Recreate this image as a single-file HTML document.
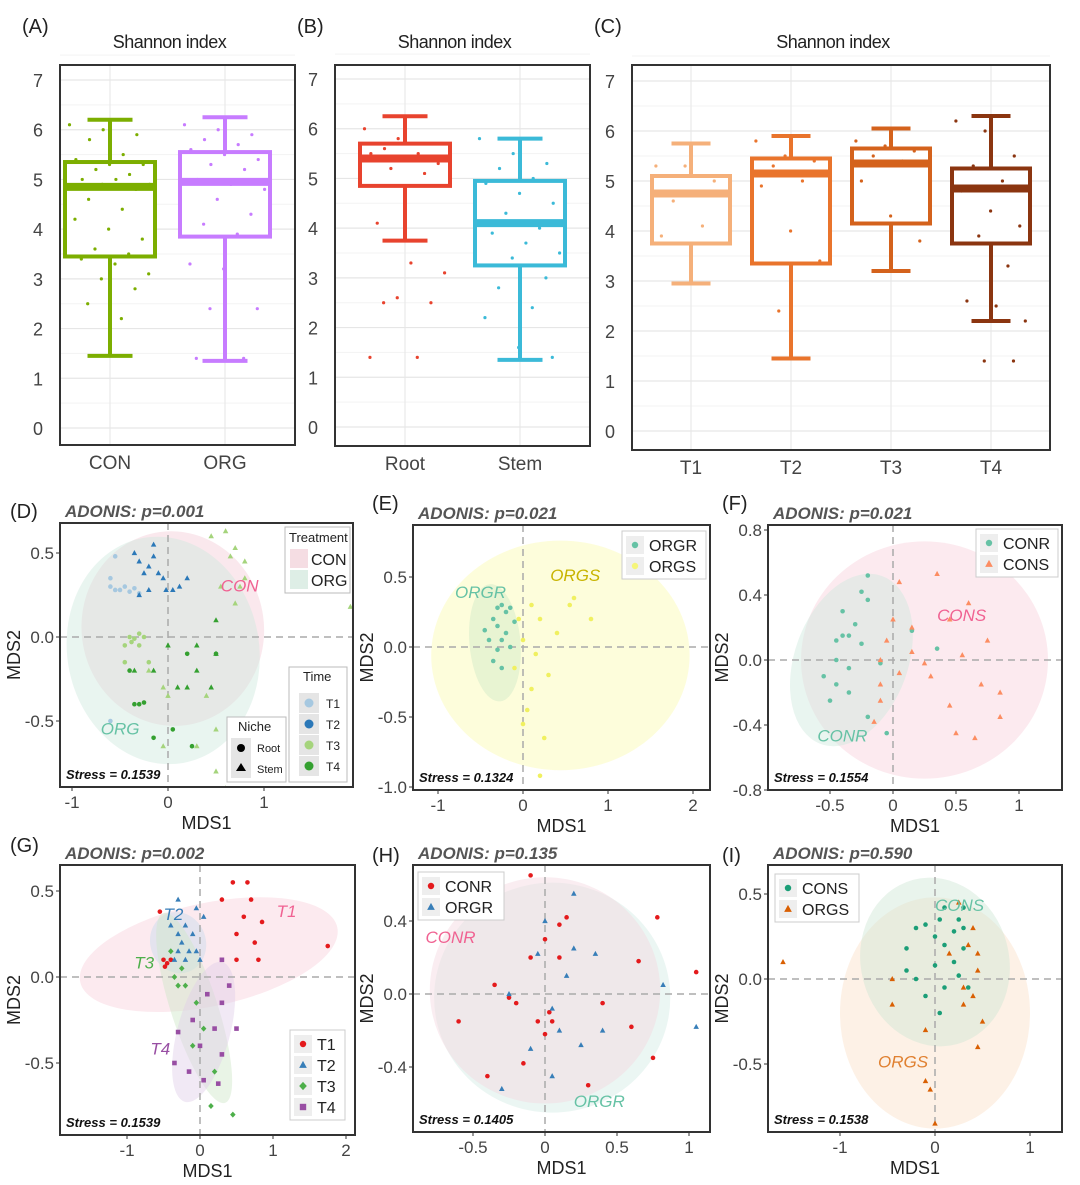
<!DOCTYPE html>
<html><head><meta charset="utf-8"><style>
body{margin:0;background:#fff}
svg{display:block;font-family:"Liberation Sans",sans-serif}
</style></head><body>
<svg id="fig" width="1080" height="1185" viewBox="0 0 1080 1185" xmlns="http://www.w3.org/2000/svg"></svg>
<script>
// ---------- Boxplot data ----------
const A_cats=["CON","ORG"];
const A_stats=[[1.45,3.45,4.85,5.35,6.2],[1.35,3.85,4.95,5.55,6.25]];
const A_pts=[[6.1,6.0,5.9,5.8,5.5,5.4,5.3,5.3,5.2,5.1,5.0,5.0,4.9,4.9,4.8,4.6,4.4,4.2,4.0,3.8,3.6,3.5,3.4,3.3,3.1,3.0,2.8,2.5,2.2],[6.1,6.0,5.9,5.8,5.7,5.6,5.5,5.4,5.3,5.2,5.0,4.9,4.8,4.6,4.3,4.1,3.9,3.3,3.2,2.4,2.4,1.4,1.4]];
const B_cats=["Root","Stem"];
const B_stats=[[3.75,4.85,5.4,5.7,6.25],[1.35,3.25,4.1,4.95,5.8]];
const B_pts=[[6.0,5.8,5.7,5.6,5.5,5.5,5.4,5.3,5.2,5.1,4.1,3.3,3.1,2.6,2.5,2.5,1.4,1.4],[5.8,5.5,5.3,5.2,5.0,4.9,4.7,4.5,4.3,4.0,3.9,3.7,3.5,3.4,3.0,2.8,2.4,2.2,1.6,1.4]];
const C_cats=["T1","T2","T3","T4"];
const C_stats=[[2.95,3.75,4.75,5.1,5.75],[1.45,3.35,5.15,5.45,5.9],[3.2,4.15,5.35,5.65,6.05],[2.2,3.75,4.85,5.25,6.3]];
const C_pts=[[5.3,5.3,5.0,4.6,4.1,3.9,3.3],[5.8,5.5,5.4,5.3,5.0,4.9,4.0,3.4,2.4],[5.8,5.7,5.6,5.5,5.4,5.0,4.3,3.8],[6.2,6.0,5.5,5.3,5.0,4.8,4.4,4.1,3.9,3.3,2.6,2.5,2.2,1.4,1.4]];
const yTicksBox=[0,1,2,3,4,5,6,7];

// ---------- Ordination data ----------
const D_T1=[[-0.6,0.3],[-0.5,0.28],[-0.45,0.3],[-0.4,0.27],[-0.55,0.28],[-0.35,0.29],[-0.3,0.26],[-0.6,0.35],[-0.55,0.48],[-0.6,-0.5]];
const D_T2=[[-0.3,0.45],[-0.2,0.42],[-0.1,0.38],[-0.15,0.48],[-0.05,0.35],[-0.25,0.38],[-0.02,0.28],[0.12,0.3],[-0.35,0.5],[0.05,0.28],[-0.15,0.55],[-0.2,0.28],[-0.3,0.25],[0.2,0.35],[-0.1,0.7]];
const D_T3=[[-0.4,0.0],[-0.35,-0.01],[-0.3,0.02],[-0.25,0.0],[-0.38,-0.03],[-0.45,-0.05],[-0.45,-0.15],[-0.2,-0.15],[-0.3,-0.05]];
const D_T3s=[[0.65,0.48],[0.8,0.45],[0.7,0.53],[0.55,0.3],[0.75,0.3],[0.45,0.6],[0.6,0.63],[0.8,0.35],[1.9,0.18],[0.7,0.2],[-0.05,-0.3],[0.0,-0.35],[-0.2,-0.2],[0.4,-0.35],[0.5,-0.55],[0.3,-0.65],[0.5,-0.8],[-0.05,-0.65],[0.6,-0.9]];
const D_T4=[[-0.3,-0.4],[-0.35,-0.4],[-0.25,-0.39],[-0.4,-0.2],[0.2,-0.1],[0.05,-0.55],[-0.15,-0.6],[0.5,-0.1],[0.25,-0.65]];
const D_T4s=[[0.5,0.1],[0.3,-0.05],[0.5,-0.1],[0.3,-0.2],[-0.15,-0.2],[-0.35,-0.2],[0.45,-0.3],[0.2,-0.3],[0.1,-0.3],[0.0,-0.05]];

const E_R=[[-0.3,0.28],[-0.25,0.3],[-0.2,0.25],[-0.15,0.28],[-0.35,0.2],[-0.3,0.15],[-0.2,0.1],[-0.25,0.05],[-0.4,0.05],[-0.3,-0.02],[-0.15,0.0],[-0.35,-0.1],[-0.25,-0.15],[-0.1,0.18],[-0.45,0.12]];
const E_S=[[0.1,0.3],[0.55,0.3],[0.8,0.2],[0.2,0.2],[0.4,0.1],[0.0,0.05],[0.15,-0.05],[-0.05,0.2],[0.3,-0.2],[0.1,-0.3],[0.05,-0.45],[0.0,-0.55],[0.25,-0.65],[0.2,-0.92],[0.6,0.35],[-0.1,-0.15]];
const F_R=[[-0.2,0.52],[-0.25,0.42],[-0.2,0.37],[-0.4,0.3],[-0.3,0.22],[-0.4,0.15],[-0.35,0.15],[-0.45,0.12],[-0.25,0.1],[-0.45,0.0],[-0.35,-0.05],[-0.55,-0.1],[-0.45,-0.15],[-0.35,-0.2],[-0.5,-0.25],[-0.1,-0.02],[0.35,0.07],[-0.2,-0.35],[-0.05,-0.45],[0.15,0.18]];
const F_S=[[0.35,0.53],[0.05,0.48],[0.6,0.35],[0.0,0.25],[0.45,0.25],[0.15,0.2],[-0.05,0.12],[0.75,0.12],[0.15,0.05],[0.55,0.03],[-0.1,0.0],[0.25,-0.02],[0.05,-0.08],[0.3,-0.1],[0.7,-0.15],[-0.1,-0.15],[0.85,-0.2],[-0.1,-0.25],[0.45,-0.28],[0.85,-0.35],[-0.15,-0.38],[0.5,-0.45],[0.65,-0.48]];

const G_T1=[[0.45,0.55],[0.65,0.55],[0.3,0.45],[0.7,0.45],[0.6,0.35],[0.85,0.32],[0.5,0.25],[0.75,0.2],[0.8,0.1],[1.75,0.18],[0.5,0.1],[-0.5,0.1],[-0.45,0.08],[-0.4,0.1],[-0.48,0.06],[-0.55,0.38]];
const G_T2=[[-0.3,0.45],[-0.05,0.4],[-0.4,0.3],[-0.2,0.3],[-0.3,0.25],[-0.1,0.25],[-0.25,0.2],[-0.15,0.15],[-0.3,0.15],[-0.05,0.15],[0.0,0.1],[-0.2,0.1],[-0.35,0.1],[0.05,0.35]];
const G_T3=[[-0.4,0.15],[-0.25,0.05],[-0.35,0.0],[-0.3,-0.05],[-0.2,-0.05],[-0.05,-0.15],[0.05,-0.3],[-0.1,-0.4],[0.2,-0.55],[0.15,-0.75],[0.45,-0.8]];
const G_T4=[[0.3,0.1],[0.4,-0.05],[0.1,-0.1],[0.3,-0.15],[-0.1,-0.25],[0.2,-0.3],[0.5,-0.3],[-0.3,-0.32],[0.0,-0.4],[0.3,-0.45],[-0.35,-0.5],[0.05,-0.6],[0.25,-0.62],[-0.15,-0.55]];

const H_R=[[-0.1,0.65],[0.1,0.38],[0.15,0.42],[0.0,0.3],[-0.1,0.2],[0.1,0.2],[-0.35,0.05],[-0.2,-0.05],[-0.25,-0.02],[-0.05,-0.15],[0.0,-0.22],[0.05,-0.15],[0.03,-0.1],[-0.6,-0.15],[0.6,-0.18],[0.4,-0.05],[0.75,-0.35],[0.65,0.18],[0.78,0.42],[-0.4,-0.45],[0.3,-0.5],[-0.15,-0.38],[1.05,0.12]];
const H_S=[[0.2,0.55],[0.0,0.4],[-0.05,0.22],[0.2,0.25],[0.15,0.1],[-0.25,0.0],[0.05,-0.08],[0.1,-0.2],[-0.1,-0.3],[0.4,-0.2],[0.25,-0.28],[0.82,0.05],[1.05,-0.18],[0.05,-0.45],[-0.3,-0.52],[0.35,0.22]];
const I_C=[[0.1,0.42],[0.3,0.42],[0.05,0.35],[0.25,0.35],[0.3,0.3],[-0.1,0.32],[0.2,0.28],[0.0,0.25],[-0.2,0.3],[0.1,0.2],[0.3,0.18],[-0.3,0.18],[0.2,0.1],[0.0,0.08],[-0.2,0.0],[0.25,0.02],[0.35,-0.05],[0.1,-0.05],[-0.1,-0.1],[0.05,-0.2],[-0.3,0.05]];
const I_S=[[0.25,0.45],[0.4,0.3],[0.35,0.2],[0.45,0.15],[0.15,0.15],[0.45,0.05],[-0.45,0.0],[0.3,-0.05],[0.4,-0.1],[-0.45,-0.15],[0.3,-0.15],[0.5,-0.25],[-0.1,-0.3],[0.45,-0.4],[-1.6,0.1],[-0.1,-0.6],[-0.05,-0.65],[0.0,-0.85]];

const NS="http://www.w3.org/2000/svg";
const svg=document.getElementById("fig");
function el(tag,attrs,parent,text){const e=document.createElementNS(NS,tag);for(const k in attrs)e.setAttribute(k,attrs[k]);if(text!==undefined)e.textContent=text;(parent||svg).appendChild(e);return e;}
function txt(x,y,s,size,extra,name,parent){const t=el("text",Object.assign({x:x,y:y,"font-size":size,fill:"#222"},extra||{}),parent,s);


return t;}
function lin(a,b){return v=>a[1]+(v-a[0])*(b[1]-a[1])/(b[0]-a[0]);}

// ---------- Box panels ----------
function boxPanel(id,letter,box,y0,y7,xs,bw,cats,stats,pts,colors){
  const g=el("g",{});
  
  
  const Y=lin([0,y0],[7,y7]);
  for(let v=0;v<=7.5;v+=0.5){const r=el("line",{x1:box[0],x2:box[2],y1:Y(v),y2:Y(v),stroke:v%1?"#f3f3f3":"#e6e6e6","stroke-width":v%1?1:1.2},g);
    
    }
  xs.forEach(x=>{const r=el("line",{x1:x,x2:x,y1:box[1],y2:box[3],stroke:"#e6e6e6"},g);
    
    });
  yTicksBox.forEach(v=>{txt(box[0]-22,Y(v)+7,String(v),18,{fill:"#444","text-anchor":"middle"},'y-tick-label',g);});
  cats.forEach((c,i)=>{
    const x=xs[i],s=stats[i],col=colors[i];
    txt(x,box[3]+24,c,19,{fill:"#444","text-anchor":"middle"},'x-tick-label',g);
    const bg=el("g",{stroke:col,"stroke-width":4,fill:"none"},g);
    
    
    el("line",{x1:x,x2:x,y1:Y(s[0]),y2:Y(s[1])},bg);
    el("line",{x1:x,x2:x,y1:Y(s[3]),y2:Y(s[4])},bg);
    el("line",{x1:x-bw/4,x2:x+bw/4,y1:Y(s[0]),y2:Y(s[0])},bg);
    el("line",{x1:x-bw/4,x2:x+bw/4,y1:Y(s[4]),y2:Y(s[4])},bg);
    el("rect",{x:x-bw/2,y:Y(s[3]),width:bw,height:Y(s[1])-Y(s[3]),fill:"#fff"},bg);
    el("line",{x1:x-bw/2,x2:x+bw/2,y1:Y(s[2]),y2:Y(s[2]),"stroke-width":8},bg);
    pts[i].forEach((v,j)=>{const off=(((j*37)%89)/89-0.5)*bw*0.9;
      const p=el("circle",{cx:x+off,cy:Y(v),r:1.6,fill:col},g);
      
      });
  });
  const fr=el("rect",{x:box[0],y:box[1],width:box[2]-box[0],height:box[3]-box[1],fill:"none",stroke:"#333","stroke-width":2},g);
  
  
  txt(box[0]-38,33,"("+letter+")",20,{},'panel-label',g);
  txt((box[0]+box[2])/2-8,48,"Shannon index",18,{"text-anchor":"middle","letter-spacing":"-0.5"},'panel-title',g);
}
boxPanel("A","A",[60,65,295,445],428,80,[110,225],90,A_cats,A_stats,A_pts,["#7cae00","#c77cff"]);
boxPanel("B","B",[335,65,590,446],427,79,[405,520],90,B_cats,B_stats,B_pts,["#e8432e","#3bbad8"]);
boxPanel("C","C",[632,65,1050,450],431,81,[691,791,891,991],78,C_cats,C_stats,C_pts,["#f5b07a","#e9742c","#d4621c","#8b3510"]);

// ---------- Ordination panels ----------
function shape(g,kind,x,y,col,sz){
  let e;
  if(kind==="c")e=el("circle",{cx:x,cy:y,r:sz,fill:col},g);
  else if(kind==="t")e=el("polygon",{points:`${x},${y-sz*1.3} ${x-sz*1.2},${y+sz*0.9} ${x+sz*1.2},${y+sz*0.9}`,fill:col},g);
  else if(kind==="d")e=el("polygon",{points:`${x},${y-sz*1.3} ${x-sz*1.2},${y} ${x},${y+sz*1.3} ${x+sz*1.2},${y}`,fill:col},g);
  else e=el("rect",{x:x-sz,y:y-sz,width:sz*2,height:sz*2,fill:col},g);
  return e;
}
function ordPanel(o){
  const g=el("g",{});
  
  
  const b=o.box,X=lin(o.xa[0],o.xa[1]),Y=lin(o.ya[0],o.ya[1]);
  const cp=el("clipPath",{id:"cp"+o.id},g);el("rect",{x:b[0],y:b[1],width:b[2]-b[0],height:b[3]-b[1]},cp);
  const inner=el("g",{"clip-path":"url(#cp"+o.id+")"},g);
  o.ell.forEach(e=>{const cx=X(e[0]),cy=Y(e[1]),rx=Math.abs(X(e[0]+e[2])-cx),ry=Math.abs(Y(e[1]+e[3])-cy);
    const r=el("ellipse",{cx:cx,cy:cy,rx:rx,ry:ry,fill:e[5],"fill-opacity":0.45,transform:`rotate(${e[4]} ${cx} ${cy})`},inner);
    
    });
  el("line",{x1:X(0),x2:X(0),y1:b[1],y2:b[3],stroke:"#aaa","stroke-width":1.5,"stroke-dasharray":"7,5"},inner);
  el("line",{x1:b[0],x2:b[2],y1:Y(0),y2:Y(0),stroke:"#aaa","stroke-width":1.5,"stroke-dasharray":"7,5"},inner);
  o.groups.forEach(gr=>gr.pts.forEach(p=>{const s=shape(inner,gr.shape,X(p[0]),Y(p[1]),gr.color,2.3);
    
    }));
  o.labels.forEach(l=>txt(X(l[1]),Y(l[2]),l[0],17,{fill:l[3],"font-style":"italic"},'ellipse-label',g));
  const fr=el("rect",{x:b[0],y:b[1],width:b[2]-b[0],height:b[3]-b[1],fill:"none",stroke:"#333","stroke-width":2},g);
  
  
  o.xt.forEach(v=>{el("line",{x1:X(v),x2:X(v),y1:b[3],y2:b[3]+4,stroke:"#333"},g);txt(X(v),b[3]+21,String(v),17,{fill:"#444","text-anchor":"middle"},'x-tick-label',g);});
  o.yt.forEach(v=>{el("line",{x1:b[0]-4,x2:b[0],y1:Y(v),y2:Y(v),stroke:"#333"},g);txt(b[0]-6,Y(v)+6,v.toFixed(1),17,{fill:"#444","text-anchor":"end"},'y-tick-label',g);});
  txt((b[0]+b[2])/2,b[3]+42,"MDS1",18,{"text-anchor":"middle"},'x-axis-title',g);
  txt(0,0,"MDS2",18,{"text-anchor":"middle",transform:`translate(${b[0]-40},${(b[1]+b[3])/2}) rotate(-90)`},'y-axis-title',g);
  txt(b[0]+5,b[1]-6,"ADONIS: p="+o.p,17,{fill:"#555","font-weight":"bold","font-style":"italic"},'adonis-title',g);
  txt(b[0]+6,b[3]-8,"Stress = "+o.stress,13,{fill:"#111","font-weight":"bold","font-style":"italic"},'stress-label',g);
  txt(o.lx,o.ly,"("+o.id+")",20,{},'panel-label',g);
  if(o.legend){const L=o.legend;const lg=el("g",{},g);
    
    
    el("rect",{x:L.x,y:L.y,width:L.w,height:L.items.length*21+6,fill:"#fff",stroke:"#ccc"},lg);
    L.items.forEach((it,i)=>{const yy=L.y+14+i*21;
      el("rect",{x:L.x+4,y:yy-9,width:18,height:18,fill:"#eee"},lg);
      shape(lg,it[1],L.x+13,yy,it[2],3.2);
      txt(L.x+27,yy+6,it[0],16,{},'legend-entry',lg);});}
  return g;
}
ordPanel({id:"D",box:[60,523,353,787],xa:[[0,168],[1,264]],ya:[[0,637],[0.5,553]],xt:[-1,0,1],yt:[0.5,0,-0.5],p:"0.001",stress:"0.1539",lx:10,ly:518,
  ell:[[0.05,0.05,0.95,0.58,-8,"#f5cdd6"],[-0.05,-0.08,1.0,0.68,-10,"#cfe8dd"]],
  groups:[{name:"T1",pts:D_T1,shape:"c",color:"#a6c8e0"},{name:"T2",pts:D_T2,shape:"t",color:"#2b78b8"},{name:"T3",pts:D_T3,shape:"c",color:"#a5d47c"},{name:"T3-stem",pts:D_T3s,shape:"t",color:"#a5d47c"},{name:"T4",pts:D_T4,shape:"c",color:"#34a030"},{name:"T4-stem",pts:D_T4s,shape:"t",color:"#34a030"}],
  labels:[["CON",0.55,0.27,"#f06292"],["ORG",-0.7,-0.58,"#66c2a5"]]});
(function(){const lg=el("g",{});
 el("rect",{x:285,y:527,width:65,height:66,fill:"#fff",stroke:"#bbb"},lg);txt(289,542,"Treatment",13,{},'legend-title',lg);
 el("rect",{x:290,y:549,width:18,height:19,fill:"#f5dde3"},lg);txt(311,565,"CON",16,{},'legend-entry',lg);
 el("rect",{x:290,y:570,width:18,height:19,fill:"#deeee6"},lg);txt(311,586,"ORG",16,{},'legend-entry',lg);
 const t=el("g",{});
 el("rect",{x:289,y:667,width:58,height:115,fill:"#fff",stroke:"#bbb"},t);txt(303,681,"Time",13,{},'legend-title',t);
 ["#a6c8e0","#2b78b8","#a5d47c","#34a030"].forEach((c,i)=>{const yy=703+i*21;el("rect",{x:299,y:yy-10,width:20,height:20,fill:"#e5e5e5"},t);el("circle",{cx:309,cy:yy,r:4.5,fill:c},t);txt(326,yy+5,"T"+(i+1),12,{},'legend-entry',t);});
 const n=el("g",{});
 el("rect",{x:227,y:717,width:59,height:65,fill:"#fff",stroke:"#bbb"},n);txt(238,731,"Niche",13,{},'legend-title',n);
 el("rect",{x:231,y:738,width:20,height:40,fill:"#e5e5e5"},n);el("circle",{cx:241,cy:748,r:4,fill:"#000"},n);txt(257,752,"Root",11,{},'legend-entry',n);
 el("polygon",{points:"241,763 236,771 246,771",fill:"#000"},n);txt(257,773,"Stem",11,{},'legend-entry',n);})();

ordPanel({id:"E",box:[413,525,710,790],xa:[[0,523],[1,608]],ya:[[0,647],[0.5,577]],xt:[-1,0,1,2],yt:[0.5,0,-0.5,-1],p:"0.021",stress:"0.1324",lx:372,ly:510,
  ell:[[0.44,-0.06,1.52,0.82,0,"#fafab0"],[-0.33,0.03,0.3,0.42,-5,"#cfe8c8"]],
  groups:[{name:"ORGR",pts:E_R,shape:"c",color:"#66c2a5"},{name:"ORGS",pts:E_S,shape:"c",color:"#f0f060"}],
  labels:[["ORGR",-0.8,0.35,"#66c2a5"],["ORGS",0.32,0.47,"#c8b400"]],
  legend:{x:622,y:531,w:84,items:[["ORGR","c","#66c2a5"],["ORGS","c","#f5f57a"]]}});
ordPanel({id:"F",box:[768,525,1062,790],xa:[[0,893],[0.5,956]],ya:[[0,660],[0.4,595]],xt:[-0.5,0,0.5,1],yt:[0.8,0.4,0,-0.4,-0.8],p:"0.021",stress:"0.1554",lx:722,ly:510,
  ell:[[0.25,0.0,0.98,0.73,0,"#f9d0dc"],[-0.33,0.0,0.45,0.55,20,"#cfe8dd"]],
  groups:[{name:"CONR",pts:F_R,shape:"c",color:"#66c2a5"},{name:"CONS",pts:F_S,shape:"t",color:"#fc8d62"}],
  labels:[["CONS",0.35,0.24,"#f06292"],["CONR",-0.6,-0.5,"#66c2a5"]],
  legend:{x:976,y:529,w:82,items:[["CONR","c","#66c2a5"],["CONS","t","#fc8d62"]]}});
ordPanel({id:"G",box:[60,865,355,1135],xa:[[0,200],[1,273]],ya:[[0,977],[0.5,891]],xt:[-1,0,1,2],yt:[0.5,0,-0.5],p:"0.002",stress:"0.1539",lx:10,ly:852,
  ell:[[0.12,0.13,1.8,0.3,-12,"#f9d0dc"],[-0.3,0.2,0.38,0.18,-20,"#c8dcee"],[-0.08,-0.18,0.32,0.58,-18,"#cfe6c8"],[0.05,-0.32,0.36,0.42,15,"#e0cfe8"]],
  groups:[{name:"T1",pts:G_T1,shape:"c",color:"#e41a1c"},{name:"T2",pts:G_T2,shape:"t",color:"#377eb8"},{name:"T3",pts:G_T3,shape:"d",color:"#4daf4a"},{name:"T4",pts:G_T4,shape:"s",color:"#984ea3"}],
  labels:[["T1",1.05,0.35,"#f06292"],["T2",-0.5,0.33,"#377eb8"],["T3",-0.9,0.05,"#4daf4a"],["T4",-0.68,-0.45,"#984ea3"]],
  legend:{x:290,y:1030,w:55,items:[["T1","c","#e41a1c"],["T2","t","#377eb8"],["T3","d","#4daf4a"],["T4","s","#984ea3"]]}});
ordPanel({id:"H",box:[413,865,710,1132],xa:[[0,545],[0.5,617]],ya:[[0,994],[0.4,921]],xt:[-0.5,0,0.5,1],yt:[0.4,0,-0.4],p:"0.135",stress:"0.1405",lx:372,ly:862,
  ell:[[0.05,-0.02,0.82,0.63,0,"#d2ece4"],[0.0,0.02,0.8,0.62,0,"#f5d6e0"]],
  groups:[{name:"CONR",pts:H_R,shape:"c",color:"#e41a1c"},{name:"ORGR",pts:H_S,shape:"t",color:"#377eb8"}],
  labels:[["CONR",-0.83,0.28,"#f06292"],["ORGR",0.2,-0.62,"#66c2a5"]],
  legend:{x:418,y:872,w:86,items:[["CONR","c","#e41a1c"],["ORGR","t","#377eb8"]]}});
ordPanel({id:"I",box:[768,865,1062,1132],xa:[[0,935],[1,1030]],ya:[[0,979],[0.5,894]],xt:[-1,0,1],yt:[0.5,0,-0.5],p:"0.590",stress:"0.1538",lx:722,ly:862,
  ell:[[0.0,-0.2,1.0,0.68,0,"#fbe0c8"],[0.0,0.1,0.78,0.5,-15,"#cfe6d4"]],
  groups:[{name:"CONS",pts:I_C,shape:"c",color:"#1b9e77"},{name:"ORGS",pts:I_S,shape:"t",color:"#d95f02"}],
  labels:[["CONS",0.0,0.4,"#66c2a5"],["ORGS",-0.6,-0.52,"#e08030"]],
  legend:{x:775,y:874,w:84,items:[["CONS","c","#1b9e77"],["ORGS","t","#d95f02"]]}});
</script>
</body></html>
